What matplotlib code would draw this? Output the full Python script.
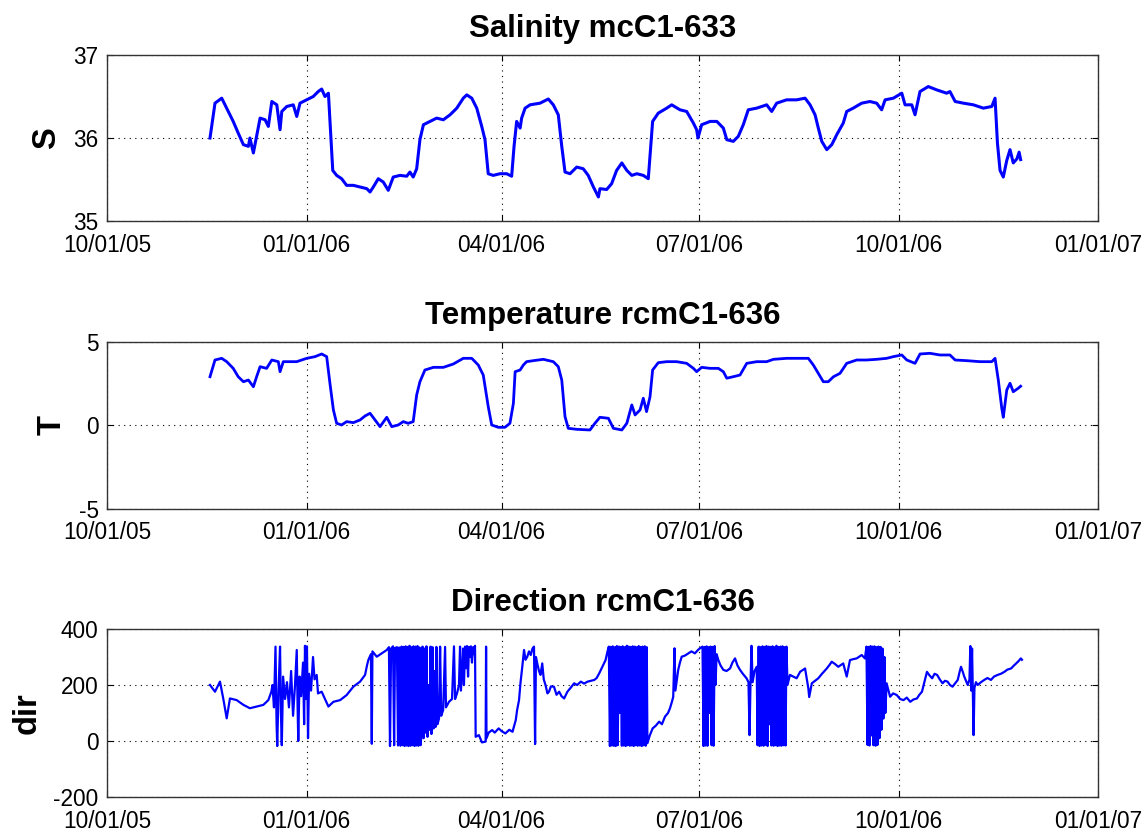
"""
Mooring C1 time series: salinity, temperature and current direction.
"""

import matplotlib

matplotlib.use("Agg")
import matplotlib.dates as mdates
import matplotlib.pyplot as plt
import numpy as np

START = np.datetime64("2005-10-01")
END = np.datetime64("2007-01-01")
TICK_DATES = ["2005-10-01", "2006-01-01", "2006-04-01", "2006-07-01", "2006-10-01", "2007-01-01"]

# days after 10/01/05
SAL_DAY = [
    47.5, 49.8, 52.9, 54.4, 58.2, 60.5, 62.9, 65.2, 65.9, 67.5,
    69.0, 70.6, 72.9, 74.4, 76.0, 78.3, 79.8, 80.6, 82.9, 85.9,
    87.5, 89.0, 92.1, 95.1, 97.4, 99.0, 100.5, 102.1, 103.2, 104.1,
    105.9, 108.2, 110.5, 113.6, 116.7, 119.8, 121.3, 122.8, 125.1, 127.4,
    129.7, 132.0, 135.1, 138.2, 139.7, 141.2, 142.8, 144.3, 145.9, 149.0,
    152.0, 155.1, 158.2, 161.3, 164.3, 165.9, 168.2, 170.5, 172.8, 174.3,
    175.8, 178.1, 181.2, 184.3, 186.6, 187.7, 188.9, 190.5, 191.2, 192.8,
    195.1, 199.7, 203.5, 205.8, 208.1, 209.7, 211.2, 213.5, 216.6, 219.6,
    221.9, 224.3, 226.6, 227.3, 230.4, 232.7, 235.0, 237.4, 239.7, 242.0,
    244.3, 247.3, 249.6, 250.4, 251.6, 254.2, 258.1, 260.4, 264.2, 267.3,
    270.4, 271.9, 272.5, 274.2, 278.1, 281.2, 284.2, 285.8, 288.8, 291.1,
    293.4, 295.7, 299.6, 304.2, 306.5, 308.8, 313.4, 318.0, 321.9, 324.2,
    326.5, 328.0, 329.6, 331.9, 334.2, 336.5, 339.5, 341.1, 344.1, 348.0,
    351.8, 354.9, 357.2, 358.8, 362.6, 366.5, 368.0, 371.1, 372.6, 374.9,
    378.7, 382.6, 387.2, 388.7, 391.1, 394.9, 399.5, 404.1, 408.0, 409.5,
    410.6, 411.8, 413.3, 414.9, 416.4, 417.9, 419.6, 420.6, 421.3,
]
SAL_VAL = [
    36.00, 36.42, 36.48, 36.40, 36.20, 36.06, 35.92, 35.90, 36.00, 35.82,
    36.02, 36.24, 36.22, 36.14, 36.44, 36.40, 36.10, 36.32, 36.38, 36.40,
    36.26, 36.42, 36.46, 36.50, 36.56, 36.59, 36.50, 36.54, 36.02, 35.61,
    35.55, 35.51, 35.43, 35.43, 35.41, 35.39, 35.35, 35.41, 35.51, 35.47,
    35.37, 35.53, 35.55, 35.54, 35.59, 35.53, 35.63, 35.98, 36.16, 36.20,
    36.24, 36.22, 36.28, 36.36, 36.48, 36.52, 36.48, 36.36, 36.14, 35.98,
    35.57, 35.55, 35.57, 35.57, 35.54, 35.90, 36.20, 36.12, 36.24, 36.36,
    36.40, 36.42, 36.47, 36.40, 36.28, 35.90, 35.59, 35.57, 35.65, 35.63,
    35.55, 35.41, 35.29, 35.39, 35.38, 35.45, 35.61, 35.70, 35.61, 35.55,
    35.57, 35.55, 35.51, 35.78, 36.20, 36.30, 36.36, 36.40, 36.34, 36.32,
    36.18, 36.10, 36.00, 36.16, 36.20, 36.20, 36.12, 35.98, 35.96, 36.02,
    36.16, 36.34, 36.36, 36.40, 36.32, 36.42, 36.46, 36.46, 36.48, 36.40,
    36.28, 36.12, 35.96, 35.86, 35.92, 36.04, 36.18, 36.32, 36.36, 36.42,
    36.44, 36.42, 36.34, 36.46, 36.48, 36.54, 36.40, 36.40, 36.28, 36.56,
    36.62, 36.58, 36.54, 36.56, 36.44, 36.42, 36.40, 36.36, 36.38, 36.48,
    35.94, 35.61, 35.53, 35.73, 35.86, 35.70, 35.75, 35.83, 35.74,
]

TEMP_DAY = [
    47.5, 49.8, 52.9, 55.2, 58.2, 60.5, 62.9, 65.2, 67.5, 69.0,
    70.6, 73.6, 76.0, 79.0, 79.8, 81.3, 84.4, 87.5, 92.1, 95.9,
    99.0, 101.3, 102.8, 104.4, 105.9, 108.2, 110.5, 113.6, 116.7, 119.0,
    121.3, 123.6, 125.9, 129.0, 131.3, 134.3, 136.6, 138.9, 141.2, 142.8,
    144.3, 146.6, 150.5, 155.1, 159.7, 164.3, 168.2, 171.2, 173.5, 175.8,
    177.4, 180.4, 183.5, 185.8, 187.4, 188.2, 190.5, 192.0, 193.5, 196.6,
    201.2, 205.8, 208.1, 209.7, 211.2, 212.7, 216.6, 222.7, 225.0, 227.3,
    231.2, 233.5, 237.4, 239.7, 242.0, 243.5, 245.8, 247.3, 248.8, 250.4,
    251.6, 254.2, 258.1, 262.7, 267.3, 270.4, 271.9, 274.2, 278.1, 281.9,
    284.2, 285.8, 288.8, 291.9, 295.0, 299.6, 304.2, 307.3, 313.4, 319.6,
    323.4, 325.7, 328.0, 330.3, 332.6, 335.0, 338.0, 341.1, 345.7, 350.3,
    354.9, 359.5, 362.6, 366.5, 368.8, 372.6, 374.9, 379.5, 384.1, 388.7,
    391.1, 396.4, 402.6, 408.0, 409.5, 411.0, 412.6, 413.3, 414.9, 416.4,
    417.9, 420.2, 421.3,
]
TEMP_VAL = [
    2.92, 3.92, 4.02, 3.82, 3.42, 2.92, 2.62, 2.72, 2.32, 2.92,
    3.52, 3.42, 3.92, 3.82, 3.22, 3.82, 3.82, 3.82, 4.02, 4.12,
    4.28, 4.12, 2.53, 0.93, 0.13, 0.03, 0.23, 0.17, 0.33, 0.57,
    0.73, 0.33, -0.07, 0.49, -0.07, 0.03, 0.23, 0.13, 0.23, 1.83,
    2.62, 3.32, 3.48, 3.48, 3.68, 4.02, 4.02, 3.62, 3.02, 1.13,
    0.03, -0.11, -0.11, 0.13, 1.33, 3.22, 3.32, 3.62, 3.82, 3.88,
    3.96, 3.82, 3.52, 2.72, 0.53, -0.17, -0.23, -0.27, 0.13, 0.49,
    0.43, -0.17, -0.27, 0.13, 1.23, 0.63, 0.93, 1.63, 0.83, 1.72,
    3.32, 3.76, 3.82, 3.82, 3.72, 3.42, 3.22, 3.48, 3.42, 3.42,
    3.22, 2.83, 2.92, 3.02, 3.72, 3.82, 3.82, 3.96, 4.02, 4.02,
    4.02, 3.62, 3.12, 2.62, 2.62, 2.92, 3.12, 3.72, 3.92, 3.92,
    3.96, 4.02, 4.12, 4.22, 3.92, 3.72, 4.28, 4.32, 4.22, 4.22,
    3.92, 3.88, 3.82, 3.82, 4.02, 2.72, 1.03, 0.49, 2.12, 2.53,
    2.02, 2.23, 2.35,
]

DIR_DAY = [
    47.5, 49.8, 52.1, 53.6, 55.2, 56.7, 59.8, 62.9, 65.9, 69.0,
    72.1, 74.4, 75.8, 76.3, 77.0, 77.7, 78.2, 78.5, 79.1, 79.8,
    80.2, 80.6, 81.2, 82.1, 83.0, 83.9, 84.9, 85.8, 86.7, 87.5,
    87.9, 88.2, 88.8, 89.5, 90.4, 90.9, 91.3, 91.8, 92.2, 92.7,
    93.2, 94.1, 95.0, 95.7, 96.7, 97.3, 99.0, 102.1, 104.4, 107.5,
    110.5, 113.6, 116.7, 119.0, 119.9, 120.5, 121.7, 122.1, 122.4, 124.4,
    126.7, 129.0, 130.0, 130.5, 131.0, 131.9, 132.4, 132.8, 133.7, 134.2,
    134.7, 135.3, 135.8, 136.3, 136.7, 137.2, 137.7, 138.1, 138.6, 139.0,
    139.5, 140.0, 140.4, 140.9, 141.3, 141.8, 142.3, 142.7, 143.2, 143.6,
    144.1, 144.6, 145.0, 145.5, 146.0, 146.4, 146.9, 147.3, 147.8, 148.3,
    148.7, 149.2, 149.6, 150.1, 150.6, 151.0, 151.5, 151.9, 152.4, 153.1,
    153.6, 154.1, 155.0, 155.9, 156.3, 157.7, 159.1, 160.0, 160.5, 161.4,
    162.3, 162.8, 163.2, 163.7, 164.2, 164.6, 165.1, 165.5, 166.0, 166.5,
    166.9, 167.4, 167.8, 168.3, 168.8, 169.2, 169.7, 170.0, 171.5, 172.9,
    174.6, 174.8, 175.0, 176.0, 177.6, 178.8, 180.6, 182.0, 183.7, 185.5,
    187.0, 188.5, 189.1, 190.0, 190.7, 191.5, 192.3, 193.0, 193.8, 194.6,
    195.4, 196.2, 196.9, 197.4, 197.8, 198.4, 199.2, 199.9, 200.7, 201.4,
    202.2, 203.1, 203.8, 204.7, 206.1, 207.3, 208.5, 209.6, 210.8, 212.3,
    213.8, 215.4, 216.8, 218.5, 220.0, 221.6, 223.1, 224.7, 225.8, 227.0,
    228.1, 229.9, 230.8, 231.4, 231.9, 232.3, 232.8, 233.2, 233.7, 234.2,
    234.6, 235.1, 235.5, 236.0, 236.5, 236.9, 237.4, 237.8, 238.3, 238.8,
    239.2, 239.7, 240.1, 240.6, 241.1, 241.5, 242.0, 242.4, 242.9, 243.4,
    243.8, 244.3, 244.7, 245.2, 245.7, 246.1, 246.6, 247.0, 247.5, 248.0,
    248.4, 248.9, 249.2, 250.3, 251.6, 253.1, 254.6, 255.9, 257.3, 258.7,
    259.6, 260.5, 261.1, 261.7, 262.1, 262.8, 263.4, 264.2, 265.0, 266.5,
    268.1, 269.5, 271.1, 272.5, 273.4, 274.6, 275.1, 275.6, 276.0, 276.5,
    276.9, 277.4, 277.9, 278.3, 278.8, 279.2, 279.7, 280.2, 280.6, 281.1,
    281.9, 282.9, 284.2, 285.7, 287.3, 288.4, 289.6, 290.7, 291.9, 293.2,
    294.9, 295.8, 296.3, 296.7, 297.2, 297.7, 298.6, 299.6, 300.0, 300.5,
    300.9, 301.4, 301.8, 302.3, 302.8, 303.2, 303.7, 304.1, 304.6, 305.1,
    305.5, 306.0, 306.4, 306.9, 307.4, 307.8, 308.3, 308.7, 309.2, 309.7,
    310.1, 310.6, 311.0, 311.5, 312.0, 312.4, 312.9, 313.3, 313.8, 314.9,
    316.5, 318.0, 319.6, 321.9, 323.4, 323.8, 325.0, 326.5, 328.0, 329.7,
    331.9, 333.0, 334.2, 335.7, 337.2, 339.5, 341.1, 342.6, 344.0, 345.7,
    348.0, 349.5, 350.2, 350.7, 351.2, 351.6, 352.1, 352.5, 353.0, 353.4,
    353.9, 354.4, 354.8, 355.3, 355.7, 356.2, 356.7, 357.1, 357.6, 358.0,
    358.5, 358.9, 359.5, 361.1, 362.5, 364.2, 365.7, 367.3, 368.8, 370.4,
    371.8, 373.5, 374.6, 375.8, 376.9, 378.1, 379.2, 380.5, 381.6, 382.8,
    384.0, 385.3, 386.4, 387.6, 388.7, 389.9, 391.0, 392.3, 393.1, 393.8,
    394.7, 395.3, 396.1, 396.9, 397.7, 398.1, 398.5, 398.9, 399.3, 399.6,
    400.0, 400.7, 401.5, 403.0, 404.5, 406.0, 407.6, 409.0, 410.7, 412.2,
    413.8, 415.2, 416.9, 418.0, 419.2, 420.3, 421.4, 421.9,
]
DIR_VAL = [
    200, 176, 212, 152, 81, 152, 146, 129, 117, 123,
    129, 146, 176, 200, 120, 337, 60, -18, 180, 337,
    100, -15, 230, 150, 210, 120, 250, 90, 200, 325,
    120, 0, 230, 160, 280, 60, 340, 150, 338, 10,
    240, 180, 300, 220, 236, 170, 176, 123, 140, 146,
    164, 194, 212, 236, 270, 289, 310, -10, 320, 301,
    313, 325, 335, -18, 330, 338, -15, 332, 335, -16,
    334, -17, 337, -15, 336, -18, 338, -16, 336, -18,
    340, -17, 335, -15, 338, -18, 337, -16, 339, -17,
    334, -15, 20, 337, 10, 330, 30, 338, 15, 200,
    40, 337, 25, 335, 45, 250, 50, 336, 60, 80,
    337, 90, 110, 336, 120, 140, 150, 338, 150, 170,
    200, 337, 180, 240, 330, 200, 337, 260, 339, 230,
    336, 300, 338, 280, 335, 310, 340, 15, 21, -5,
    -2, 337, 10, 30, 39, 30, 45, 35, 27, 40,
    33, 75, 110, 146, 210, 265, 325, 290, 301, 320,
    307, 330, 337, -11, 300, 277, 250, 236, 277, 220,
    200, 170, 176, 195, 194, 165, 176, 160, 152, 176,
    190, 206, 200, 212, 205, 212, 215, 218, 225, 242,
    260, 289, 320, 337, -18, 336, -16, 338, -17, 335,
    -18, 339, -15, 337, 100, 336, -17, 338, -16, 335,
    -18, 340, -15, 337, -17, 336, -16, 338, -18, 337,
    -15, 335, -17, 339, -16, 336, -18, 337, -15, 338,
    -17, 335, -8, 20, 45, 55, 69, 60, 87, 100,
    117, 140, 158, 331, 180, 220, 254, 280, 301, 305,
    313, 320, 313, 325, 331, 337, -18, 336, -16, 338,
    -17, 335, 100, 337, -15, 336, -17, 339, 200, 310,
    289, 270, 254, 250, 259, 280, 295, 270, 254, 240,
    224, 210, 21, 194, 340, 210, 250, 265, -15, 337,
    -18, 335, -16, 338, -17, 336, -14, 339, -18, 337,
    60, 336, -16, 338, -17, 335, -15, 340, -18, 336,
    -16, 337, -17, 338, -15, 335, -16, 337, 200, 236,
    230, 224, 247, 259, 188, 157, 206, 215, 224, 240,
    259, 270, 283, 275, 265, 277, 230, 289, 292, 295,
    307, 295, 337, -14, 336, -16, 339, 20, 337, -15,
    338, -17, 335, -14, 337, 10, 336, 40, 330, 80,
    300, 100, 206, 158, 170, 164, 150, 146, 155, 140,
    148, 152, 165, 176, 210, 247, 235, 224, 240, 236,
    220, 206, 215, 212, 200, 194, 205, 218, 245, 265,
    245, 230, 215, 200, 220, 339, 180, 330, 150, 21,
    190, 210, 200, 210, 218, 225, 218, 230, 236, 240,
    247, 255, 259, 268, 277, 285, 295, 290,
]

PANELS = [
    ("Salinity mcC1-633", "S", SAL_DAY, SAL_VAL, (35, 37), [35, 36, 37], 2.2),
    ("Temperature rcmC1-636", "T", TEMP_DAY, TEMP_VAL, (-5, 5), [-5, 0, 5], 2.0),
    ("Direction rcmC1-636", "dir", DIR_DAY, DIR_VAL, (-200, 400), [-200, 0, 200, 400], 1.6),
]

# axes rectangles in figure fraction (left, bottom, width, height)
AX_RECTS = [
    (0.0932, 0.7340, 0.8633, 0.1998),
    (0.0932, 0.3875, 0.8633, 0.2010),
    (0.0932, 0.0409, 0.8633, 0.2022),
]


def to_datenum(days):
    return mdates.date2num(START) + np.asarray(days, dtype=float)


def style_axis(ax, ylim, yticks):
    ax.set_xlim(mdates.date2num(START), mdates.date2num(END))
    ax.set_xticks(mdates.date2num(np.array(TICK_DATES, dtype="datetime64[D]")))
    ax.xaxis.set_major_formatter(mdates.DateFormatter("%m/%d/%y"))
    ax.set_ylim(*ylim)
    ax.set_yticks(yticks)
    ax.grid(True, color="black", linestyle=(0, (1, 4)), linewidth=0.8)
    ax.tick_params(direction="in", length=4, width=0.8, top=True, right=True,
                   labelsize=16.3, colors="black")
    ax.tick_params(axis="x", pad=9)
    ax.tick_params(axis="y", pad=6)
    for sp in ax.spines.values():
        sp.set_color("#333333")
        sp.set_linewidth(1.0)


def main() -> None:
    plt.rcParams["font.family"] = ["Liberation Sans", "DejaVu Sans"]
    plt.rcParams["axes.unicode_minus"] = False
    fig = plt.figure(figsize=(11.48, 8.31), dpi=100)
    for rect, (title, ylabel, days, vals, ylim, yticks, lw) in zip(AX_RECTS, PANELS):
        ax = fig.add_axes(rect)
        ax.plot(to_datenum(days), vals, color="#0000ff", linewidth=lw)
        style_axis(ax, ylim, yticks)
        ax.set_title(title, fontsize=22.5, fontweight="bold", pad=13)
        ax.set_ylabel(ylabel, fontsize=23.5, fontweight="bold", labelpad=8)
    fig.savefig("out.png", dpi=100)
    plt.close(fig)


if __name__ == "__main__":
    main()
